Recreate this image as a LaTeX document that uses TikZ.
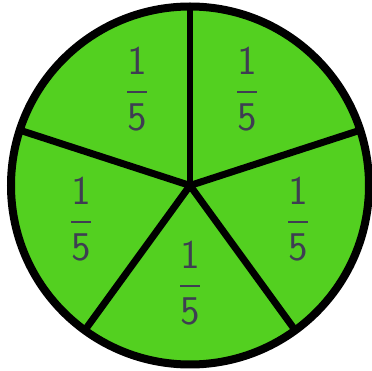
\documentclass[tikz,border=0pt]{standalone}
\usepackage{amsmath,amssymb}
\usepackage{tikz}

\definecolor{piegreen}{RGB}{83,208,32}
\definecolor{fracgray}{RGB}{62,62,82}

\newcommand{\fifth}{\scalebox{1.12}{$\dfrac{\mathsf{1}}{\mathsf{5}}$}}

\begin{document}
\begin{tikzpicture}[x=0.02cm, y=0.02cm,
	every node/.style={font=\fontsize{20}{24}\selectfont, text=fracgray}]
	\useasboundingbox (-190,-185.5) rectangle (182,185.5);
	\coordinate (c) at (0,0);
	\fill[piegreen] (c) circle (179);
	% spokes
	\foreach \a in {90,18,-54,-126,162} {
		\draw[line width=0.14cm] (c) -- (\a:179);
	}
	\draw[line width=0.16cm] (c) circle (179);
	% labels
	\foreach \nm/\x/\y in {tl/-53/96.5, tr/57/96.5, lt/-109/-33.5, rt/108/-33.5, bt/0/-97.5} {
		\node (f\nm) at (\x,\y) {\fifth};
	}
\end{tikzpicture}
\end{document}
